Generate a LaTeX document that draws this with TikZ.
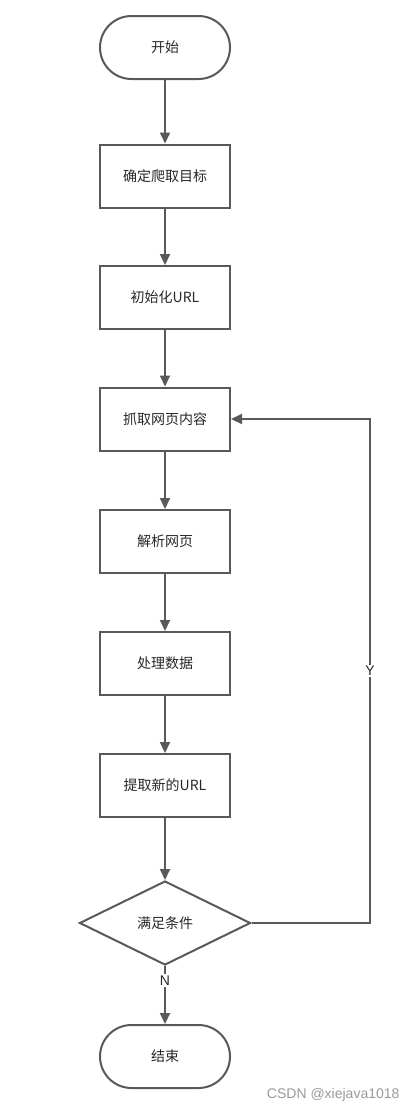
\documentclass[tikz,border=0pt]{standalone}
\usepackage{fontspec}
\setmainfont{Liberation Sans}
\newfontfamily\cjk{Noto Sans CJK SC}
\usetikzlibrary{shapes.geometric,arrows.meta}
\definecolor{lc}{HTML}{595959}
\tikzset{
  base/.style={draw=lc,line width=2pt,minimum width=130pt,minimum height=63pt,font=\cjk\fontsize{14pt}{16pt}\selectfont,text=black!85},
  termbox/.style={base,rounded corners=31.5pt},
  procbox/.style={base},
  decbox/.style={base,diamond,aspect=2.04,minimum width=171pt,minimum height=84pt,inner sep=0pt},
  conn/.style={draw=lc,line width=2pt,-{Triangle[length=11pt,width=10pt]}},
  lbl/.style={font=\fontsize{14pt}{16pt}\selectfont,text=black!85,fill=white,inner sep=1.5pt}
}
\begin{document}
\begin{tikzpicture}[x=1pt,y=-1pt]
\useasboundingbox (0,0) rectangle (413,1114);
\node[termbox] (s) at (165,47.5) {开始};
\node[procbox] (a) at (165,176) {确定爬取目标};
\node[procbox] (b) at (165,297.5) {初始化URL};
\node[procbox] (c) at (165,419) {抓取网页内容};
\node[procbox] (d) at (165,541.5) {解析网页};
\node[procbox] (e) at (165,663.5) {处理数据};
\node[procbox] (f) at (165,785.5) {提取新的URL};
\node[decbox] (g) at (165,923) {满足条件};
\node[termbox] (t) at (165,1056.5) {结束};
\coordinate (r1) at (370,923);
\coordinate (r2) at (370,419);
\draw[conn] (s) -- (a);
\draw[conn] (a) -- (b);
\draw[conn] (b) -- (c);
\draw[conn] (c) -- (d);
\draw[conn] (d) -- (e);
\draw[conn] (e) -- (f);
\draw[conn] (f) -- (g);
\draw[conn] (g) -- node[lbl,pos=0.25] (n) {N} (t);
\draw[conn] (g.east) -- (r1) -- node[lbl,pos=0.5] (y) {Y} (r2) -- (c.east);
\node[font=\fontsize{14pt}{16pt}\selectfont,text=black!40,anchor=east] (w) at (403,1095) {CSDN @xiejava1018};
\end{tikzpicture}
\end{document}
